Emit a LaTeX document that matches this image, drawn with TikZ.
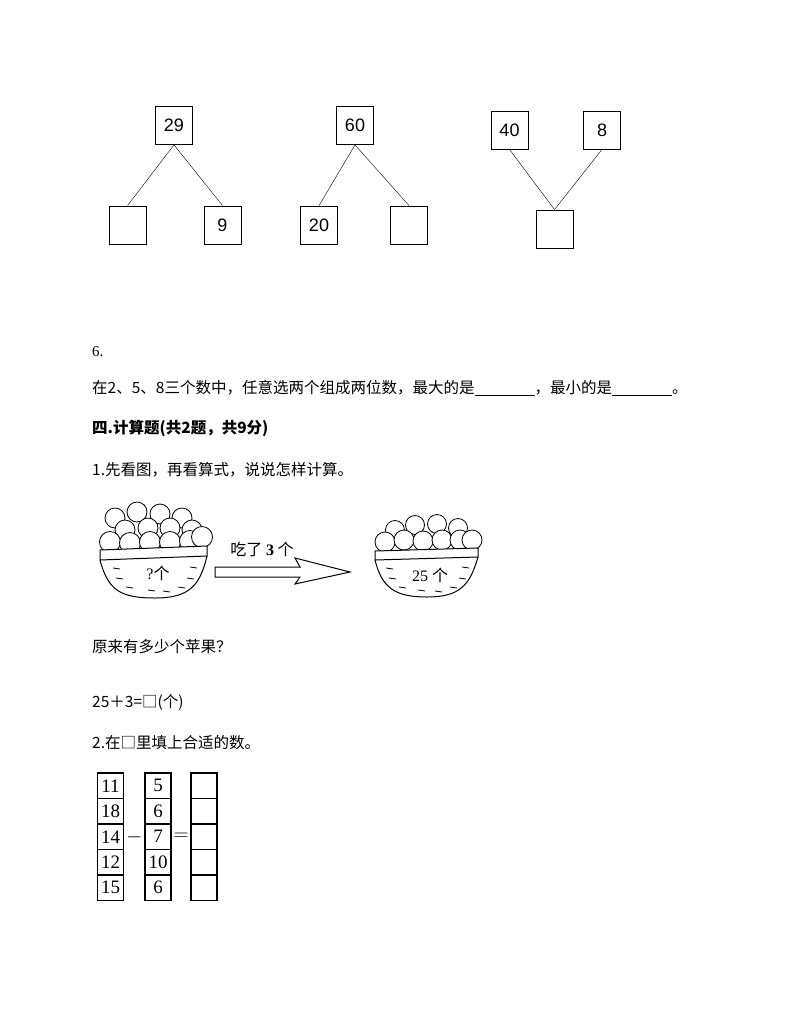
\documentclass[tikz,border=0pt]{standalone}
\usepackage{fontspec}
\setmainfont{Liberation Serif}
\newfontfamily\cjk{Noto Sans CJK SC}
\newfontfamily\arl{Liberation Sans}
\begin{document}
\begin{tikzpicture}[x=1pt,y=-1pt,
  bx/.style={draw,line width=0.8pt,minimum width=37pt,minimum height=38pt,inner sep=0pt,font=\arl\fontsize{18pt}{18pt}\selectfont},
  cell/.style={draw,line width=1.3pt,minimum width=26pt,minimum height=25.5pt,inner sep=0pt,font=\fontsize{19pt}{19pt}\selectfont},
  txt/.style={anchor=west,inner sep=0pt,font=\cjk\fontsize{15.5pt}{15.5pt}\selectfont},
  apple/.style={draw,fill=white,line width=0.8pt}]
\useasboundingbox (0,0) rectangle (794,1028);
% trees
\node[bx] (a) at (174,125.5) {29};
\node[bx] (a1) at (127.5,225) {};
\node[bx] (a2) at (222.5,225) {9};
\draw (a.south) -- (a1.north); \draw (a.south) -- (a2.north);
\node[bx] (b) at (355,125.5) {60};
\node[bx] (b1) at (319,225) {20};
\node[bx] (b2) at (409,225) {};
\draw (b.south) -- (b1.north); \draw (b.south) -- (b2.north);
\node[bx] (c1) at (509.5,130) {40};
\node[bx] (c2) at (602,130) {8};
\node[bx] (c) at (554.5,229) {};
\draw (c1.south) -- (c.north); \draw (c2.south) -- (c.north);
% texts
\node[txt,font=\fontsize{15pt}{15pt}\selectfont] (t6) at (92,352) {6.};
\node[txt] (t7) at (92,388) {在2、5、8三个数中，任意选两个组成两位数，最大的是\rule[-2pt]{60pt}{0.7pt}，最小的是\rule[-2pt]{60pt}{0.7pt}。};
\node[txt,font=\cjk\bfseries\fontsize{15.5pt}{15.5pt}\selectfont] (h) at (92,428) {四.计算题(共2题，共9分)};
\node[txt] (q1) at (92,470) {1.先看图，再看算式，说说怎样计算。};
\node[txt] (q2) at (92,647) {原来有多少个苹果？};
\node[txt] (q3) at (92,702) {25＋3=□(个)};
\node[txt] (q4) at (92,743) {2.在□里填上合适的数。};
% basket 1
\foreach \x/\y in {115/518,137/512,160/514,182/518,125/530,148/528,170/528,192/530}
  \draw[apple] (\x,\y) circle (10);
\foreach \x/\y in {110/542,130/543,150/542,170/542,190/541,202/537}
  \draw[apple] (\x,\y) circle (10.5);
\draw[line width=1pt,fill=white] (100,550) -- (207,546) -- (207,556) -- (100,560) -- cycle;
\draw[line width=1pt] (100,560) .. controls (108,590) and (120,598) .. (155,598) .. controls (190,598) and (200,585) .. (207,556);
\foreach \x/\y in {113/568,116/578,126/587,190/567,187/578,178/587,148/590,163/591}
  \draw[line width=0.8pt] (\x,\y) -- ++(7,1);
\node[inner sep=0pt,font=\fontsize{16pt}{16pt}\selectfont] (qm) at (158,573) {?\cjk 个};
% arrow
\draw[line width=1pt] (215,567) -- (300,567) -- (295,558) -- (350,572) -- (295,584) -- (300,577) -- (215,577) -- cycle;
\node[inner sep=0pt,font=\cjk\fontsize{16pt}{16pt}\selectfont] (lab) at (262,549) {吃了 {\rmfamily\bfseries 3} 个};
% basket 2
\foreach \x/\y in {395/530,415/525,437/524,458/528}
  \draw[apple] (\x,\y) circle (9.5);
\foreach \x/\y in {385/542,404/540,423/541,442/540,460/540,472/540}
  \draw[apple] (\x,\y) circle (10);
\draw[line width=1pt,fill=white] (375,551) -- (478,548) -- (478,557) -- (375,560) -- cycle;
\draw[line width=1pt] (375,560) .. controls (382,588) and (395,597) .. (427,597) .. controls (460,597) and (470,585) .. (478,557);
\foreach \x/\y in {386/568,389/578,399/587,462/567,459/578,450/587,418/590,435/591}
  \draw[line width=0.8pt] (\x,\y) -- ++(7,1);
\node[inner sep=0pt,font=\fontsize{16pt}{16pt}\selectfont] (n25) at (430,575) {25 \cjk 个};
% grid
\foreach \v [count=\i] in {11,18,14,12,15} \node[cell] (l\i) at (110.5,773+12.75+25.5*\i-25.5) {\v};
\foreach \v [count=\i] in {5,6,7,10,6} \node[cell] (m\i) at (158,773+12.75+25.5*\i-25.5) {\v};
\foreach \i in {1,...,5} \node[cell] (r\i) at (204,773+12.75+25.5*\i-25.5) {};
\node[inner sep=0pt,font=\fontsize{20pt}{20pt}\selectfont] (mi) at (134.5,837) {$-$};
\node[inner sep=0pt,font=\fontsize{20pt}{20pt}\selectfont] (eq) at (181,837) {$=$};
\end{tikzpicture}
\end{document}
